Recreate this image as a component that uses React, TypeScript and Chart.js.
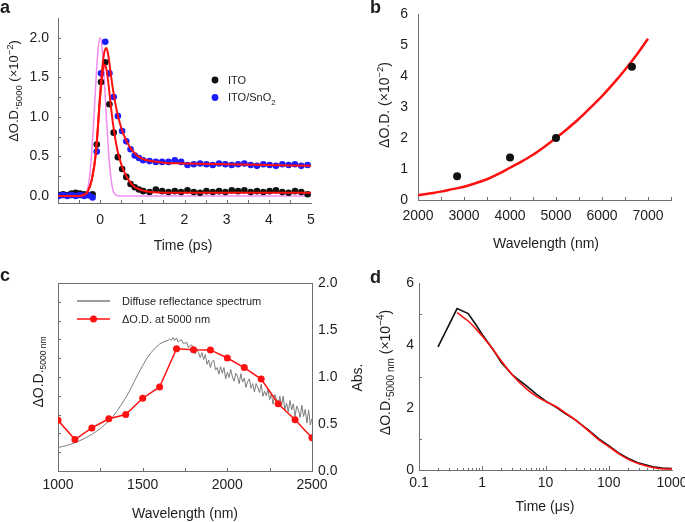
import React, { useEffect, useRef } from 'react';
import { Chart, registerables } from 'chart.js';

Chart.register(...registerables);

const FONT = '"Liberation Sans", Arial, Helvetica, sans-serif';
const TXT = '#1e1e1e';
const AXIS = '#6f6f6f';
const RED = '#ff1010';
const BLUE = '#1c1cff';
const BLACK = '#111111';
const PINK = '#f08cf0';
const GRAY = '#7c7c7c';
Chart.defaults.font.family = FONT;
Chart.defaults.color = TXT;

// ---------------- Panel a: ultrafast transient ----------------
const aTimes = [-0.98, -0.88, -0.78, -0.68, -0.58, -0.48, -0.38, -0.28, -0.18, -0.08,
  0.02, 0.12, 0.22, 0.32, 0.42, 0.52, 0.62, 0.72, 0.82, 0.92, 1.02,
  1.17, 1.32, 1.47, 1.62, 1.77, 1.92, 2.07, 2.22, 2.37, 2.52, 2.67, 2.82, 2.97, 3.12, 3.27,
  3.42, 3.57, 3.72, 3.87, 4.02, 4.17, 4.32, 4.47, 4.62, 4.77, 4.92];
const aITO = [0.01, 0.02, 0.01, 0.03, 0.04, 0.03, 0.02, 0.01, 0.02, 0.65,
  1.44, 1.69, 1.16, 0.8, 0.49, 0.34, 0.24, 0.15, 0.11, 0.08, 0.06,
  0.05, 0.08, 0.06, 0.05, 0.06, 0.05, 0.07, 0.05, 0.04, 0.06, 0.05, 0.06, 0.05, 0.07, 0.06,
  0.07, 0.05, 0.06, 0.05, 0.06, 0.07, 0.05, 0.04, 0.06, 0.05, 0.02];
const aSnO2 = [0.0, 0.01, 0.0, 0.01, 0.0, 0.01, 0.0, 0.01, -0.02, 0.56,
  1.55, 1.95, 1.55, 1.25, 1.01, 0.82, 0.69, 0.59, 0.51, 0.48, 0.45,
  0.44, 0.43, 0.43, 0.43, 0.45, 0.43, 0.39, 0.4, 0.41, 0.4, 0.39, 0.41, 0.4, 0.39, 0.4,
  0.41, 0.39, 0.38, 0.4, 0.39, 0.38, 0.4, 0.39, 0.4, 0.38, 0.39];
const aFitT = [-1, -0.5, -0.4, -0.3, -0.2, -0.1, 0, 0.05, 0.1, 0.15, 0.2, 0.25, 0.3, 0.4, 0.5,
  0.6, 0.7, 0.8, 0.9, 1.0, 1.2, 1.5, 2, 3, 4, 5];
const aFitITO = [0.0, 0.0, 0.01, 0.05, 0.2, 0.55, 1.25, 1.52, 1.66, 1.6, 1.4, 1.15, 0.93, 0.6, 0.4,
  0.27, 0.18, 0.12, 0.09, 0.07, 0.05, 0.04, 0.04, 0.04, 0.04, 0.04];
const aFitSnO2 = [0.0, 0.0, 0.01, 0.05, 0.2, 0.55, 1.3, 1.62, 1.82, 1.87, 1.75, 1.55, 1.36, 1.06, 0.86,
  0.72, 0.62, 0.55, 0.5, 0.47, 0.44, 0.42, 0.41, 0.4, 0.39, 0.38];
const aPulseT = [-1, -0.45, -0.35, -0.3, -0.25, -0.2, -0.15, -0.1, -0.05, 0, 0.05, 0.1, 0.15, 0.2, 0.25, 0.3, 0.35, 0.45, 5];
const aPulse = [0, 0, 0.02, 0.08, 0.25, 0.55, 0.98, 1.45, 1.85, 2.0, 1.85, 1.45, 0.98, 0.55, 0.25, 0.08, 0.02, 0, 0];
const aXTicks = [0, 1, 2, 3, 4, 5];
const aYTicks = [0, 0.5, 1, 1.5, 2];
const aXMinor = [-0.5, 0, 0.5, 1, 1.5, 2, 2.5, 3, 3.5, 4, 4.5];
const aYMinor = [0.25, 0.5, 0.75, 1, 1.25, 1.5, 1.75, 2];

// ---------------- Panel b: wavelength dependence ----------------
const bWavelength = [2850, 4000, 5000, 6650];
const bDeltaOD = [0.77, 1.37, 2.0, 4.3];
const bFitWl = [2000, 2250, 2500, 2750, 3000, 3250, 3500, 3750, 4000, 4250, 4500, 4750, 5000,
  5250, 5500, 5750, 6000, 6250, 6500, 6750, 7000];
const bFitOD = [0.15, 0.21, 0.27, 0.35, 0.43, 0.54, 0.67, 0.84, 1.04, 1.24, 1.46, 1.72, 2.0,
  2.3, 2.62, 2.98, 3.35, 3.76, 4.2, 4.68, 5.2];
const bXTicks = [2000, 3000, 4000, 5000, 6000, 7000];
const bYTicks = [0, 1, 2, 3, 4, 5, 6];
const bXMinor = [2500, 3000, 3500, 4000, 4500, 5000, 5500, 6000, 6500, 7000, 7500];

// ---------------- Panel c: spectra ----------------
const cSpecWlSmooth = [1000, 1025, 1050, 1075, 1100, 1125, 1150, 1175, 1200, 1225, 1250, 1275, 1300,
  1325, 1350, 1375, 1400, 1425, 1450, 1475, 1500, 1525, 1550, 1575, 1600, 1625, 1650];
const cSpecAbsSmooth = [0.25, 0.26, 0.27, 0.285, 0.3, 0.32, 0.34, 0.365, 0.39, 0.42, 0.45, 0.49, 0.53,
  0.58, 0.64, 0.71, 0.78, 0.86, 0.95, 1.04, 1.12, 1.2, 1.26, 1.31, 1.35, 1.375, 1.39];
const cSpecWlNoisy = Array.from({ length: 85 }, (_, i) => 1660 + 10 * i);
const cSpecAbsNoisy = [1.405, 1.39, 1.42, 1.39, 1.415, 1.37, 1.39, 1.395, 1.355, 1.36,
  1.37, 1.31, 1.335, 1.34, 1.28, 1.245, 1.3, 1.26, 1.205, 1.26,
  1.185, 1.24, 1.135, 1.18, 1.1, 1.165, 1.18, 1.075, 1.1, 1.03,
  1.11, 1.04, 1.1, 0.98, 1.05, 0.995, 1.08, 1.0, 0.955, 1.04,
  1.01, 0.93, 1.035, 0.945, 0.99, 0.89, 0.95, 0.98, 0.88, 0.93,
  0.84, 0.93, 0.885, 0.835, 0.925, 0.795, 0.85, 0.8, 0.87, 0.76,
  0.82, 0.71, 0.815, 0.765, 0.705, 0.795, 0.695, 0.795, 0.655, 0.72,
  0.63, 0.75, 0.65, 0.715, 0.58, 0.69, 0.65, 0.57, 0.7, 0.58,
  0.655, 0.51, 0.65, 0.49, 0.56];
const cProbeWl = [1000, 1100, 1200, 1300, 1400, 1500, 1600, 1700, 1800, 1900, 2000, 2100, 2200, 2300, 2400, 2500];
const cProbeOD = [2.7, 1.67, 2.29, 2.78, 3.0, 3.87, 4.47, 6.5, 6.45, 6.44, 6.01, 5.5, 4.89, 3.58, 2.73, 1.77];
const cXTicks = [1000, 1500, 2000, 2500];
const cAbsTicks = [0, 0.5, 1, 1.5, 2];
const cXMinor = [1250, 1500, 1750, 2000, 2250];
const cLeftMinor = [1, 2, 3, 4, 5, 6, 7, 8, 9];

// ---------------- Panel d: slow decay ----------------
const dTime = [0.2, 0.4, 0.6, 0.8, 1, 1.5, 2, 3, 4, 5, 7, 10, 15, 20, 30, 50, 70, 100, 150, 200, 300, 500, 700, 1000];
const dOD = [3.95, 5.18, 5.02, 4.65, 4.35, 3.85, 3.45, 3.05, 2.85, 2.7, 2.45, 2.22, 2.0, 1.83, 1.6, 1.25, 1.0,
  0.78, 0.52, 0.38, 0.22, 0.1, 0.06, 0.05];
const dFitTime = [0.4, 0.5, 0.6, 0.8, 1, 1.5, 2, 3, 5, 7, 10, 15, 20, 30, 50, 70, 100, 150, 200, 300, 500, 700, 1000];
const dFitOD = [5.05, 4.9, 4.78, 4.52, 4.3, 3.85, 3.5, 3.05, 2.6, 2.38, 2.2, 2.02, 1.85, 1.6, 1.22, 0.97,
  0.75, 0.5, 0.35, 0.2, 0.08, 0.04, 0.03];
const dXTicks = [0.1, 1, 10, 100, 1000];
const dYTicks = [0, 2, 4, 6];
const dXMinor = [0.2, 0.3, 0.4, 0.5, 0.6, 0.7, 0.8, 0.9, 2, 3, 4, 5, 6, 7, 8, 9,
  20, 30, 40, 50, 60, 70, 80, 90, 200, 300, 400, 500, 600, 700, 800, 900];
const dXMajor = [1, 10, 100];
const dYMinor = [1, 3, 5];

// ---------------- helpers ----------------
const xy = (xs: number[], ys: number[]) => xs.map((x, i) => ({ x, y: ys[i] }));

type Seg = { t: string; k?: 'sub' | 'sup' };
interface Txt { x: number; y: number; segs: Seg[]; size: number; small?: number; bold?: boolean; rot?: boolean; left?: boolean; base?: boolean; }
interface TickSet { axis: string; values: number[]; len: number; }
interface Mark { type: 'dot' | 'line'; x: number; y: number; x2?: number; r?: number; color: string; width?: number; }

function drawRich(ctx: CanvasRenderingContext2D, it: Txt) {
  const small = it.small ?? it.size * 0.7;
  const f = (s: Seg) => `${it.bold ? 'bold ' : ''}${s.k ? small : it.size}px ${FONT}`;
  ctx.save();
  ctx.translate(it.x, it.y);
  if (it.rot) ctx.rotate(-Math.PI / 2);
  let w = 0;
  for (const s of it.segs) { ctx.font = f(s); w += ctx.measureText(s.t).width; }
  let x = it.left ? 0 : -w / 2;
  const base = it.base ? 0 : it.size * 0.36;
  ctx.fillStyle = TXT;
  ctx.textBaseline = 'alphabetic';
  ctx.textAlign = 'left';
  for (const s of it.segs) {
    ctx.font = f(s);
    const dy = s.k === 'sub' ? it.size * 0.28 : s.k === 'sup' ? -it.size * 0.42 : 0;
    ctx.fillText(s.t, x, base + dy);
    x += ctx.measureText(s.t).width;
  }
  ctx.restore();
}

function overlay(cfg: { texts: Txt[]; ticks: TickSet[]; marks?: Mark[]; frame?: boolean }) {
  return {
    id: 'overlay',
    beforeDatasetsDraw(chart: any) {
      const ctx: CanvasRenderingContext2D = chart.ctx;
      const ca = chart.chartArea;
      ctx.save();
      ctx.strokeStyle = AXIS;
      ctx.lineWidth = 1;
      for (const t of cfg.ticks) {
        const sc = chart.scales[t.axis];
        for (const v of t.values) {
          const p = Math.round(sc.getPixelForValue(v)) + 0.5;
          ctx.beginPath();
          if (sc.isHorizontal()) { ctx.moveTo(p, ca.bottom); ctx.lineTo(p, ca.bottom - t.len); }
          else if (sc.position === 'left') { ctx.moveTo(ca.left, p); ctx.lineTo(ca.left + t.len, p); }
          else { ctx.moveTo(ca.right, p); ctx.lineTo(ca.right - t.len, p); }
          ctx.stroke();
        }
      }
      if (cfg.frame) {
        const y = Math.round(ca.top) + 0.5;
        ctx.beginPath();
        ctx.moveTo(ca.left, y);
        ctx.lineTo(ca.right, y);
        ctx.stroke();
      }
      ctx.restore();
    },
    afterDraw(chart: any) {
      const ctx: CanvasRenderingContext2D = chart.ctx;
      ctx.save();
      for (const m of cfg.marks || []) {
        if (m.type === 'line') {
          ctx.strokeStyle = m.color;
          ctx.lineWidth = m.width || 1.5;
          ctx.beginPath();
          ctx.moveTo(m.x, m.y);
          ctx.lineTo(m.x2 as number, m.y);
          ctx.stroke();
        } else {
          ctx.fillStyle = m.color;
          ctx.beginPath();
          ctx.arc(m.x, m.y, m.r || 3.5, 0, Math.PI * 2);
          ctx.fill();
        }
      }
      ctx.restore();
      for (const t of cfg.texts) drawRich(ctx, t);
    },
  };
}

interface AxisOpt { pos: string; min: number; max: number; ticks: number[]; size: number; pad: number; fmt?: (v: number) => string; labels?: boolean; type?: string; }
function axis(o: AxisOpt) {
  return {
    type: o.type || 'linear',
    position: o.pos,
    min: o.min,
    max: o.max,
    grid: { display: false, drawTicks: false },
    border: { display: true, color: AXIS, width: 1 },
    ticks: {
      display: o.labels !== false,
      padding: o.pad,
      color: TXT,
      font: { size: 14, family: FONT },
      maxRotation: 0,
      minRotation: 0,
      autoSkip: false,
      callback: (v: any) => (o.fmt ? o.fmt(Number(v)) : String(v)),
    },
    afterBuildTicks: (s: any) => { s.ticks = o.ticks.map((v) => ({ value: v })); },
    afterFit: (s: any) => {
      if (s.isHorizontal()) s.height = o.size; else s.width = o.size;
      s.paddingLeft = 0; s.paddingRight = 0; s.paddingTop = 0; s.paddingBottom = 0;
    },
  };
}

function baseOptions(scales: any, padding: any) {
  return {
    responsive: false,
    maintainAspectRatio: false,
    animation: false,
    events: [],
    layout: { padding },
    plugins: { legend: { display: false }, tooltip: { enabled: false }, title: { display: false } },
    scales,
  };
}

const lineDs = (data: any, color: string, width: number, smooth: boolean, extra: any = {}) => ({
  data, showLine: true, borderColor: color, backgroundColor: color, borderWidth: width,
  pointRadius: 0, pointHoverRadius: 0, fill: false,
  cubicInterpolationMode: smooth ? 'monotone' : 'default', tension: 0, ...extra,
});
const dotDs = (data: any, color: string, r: number, extra: any = {}) => ({
  data, showLine: false, backgroundColor: color, pointBackgroundColor: color, pointBorderWidth: 0,
  borderWidth: 0, pointRadius: r, pointHoverRadius: r, ...extra,
});

const fx1 = (v: number) => v.toFixed(1);

// ---------------- chart configs ----------------
const makeA = () => ({
  type: 'scatter',
  data: {
    datasets: [
      lineDs(xy(aFitT, aFitSnO2), RED, 2, true, { order: 0 }),
      lineDs(xy(aFitT, aFitITO), RED, 2, true, { order: 0 }),
      dotDs(xy(aTimes, aSnO2), BLUE, 3.3, { order: 1 }),
      dotDs(xy(aTimes, aITO), BLACK, 3.3, { order: 2 }),
      lineDs(xy(aPulseT, aPulse), PINK, 1.5, true, { order: 3 }),
    ],
  },
  options: baseOptions({
    x: axis({ pos: 'bottom', min: -1, max: 5, ticks: aXTicks, size: 57, pad: 9 }),
    y: axis({ pos: 'left', min: -0.09, max: 2.25, ticks: aYTicks, size: 58, pad: 9, fmt: fx1 }),
  }, { left: 0, top: 18, right: 31, bottom: 0 }),
  plugins: [overlay({
    ticks: [{ axis: 'x', values: aXMinor, len: 3 }, { axis: 'y', values: aYMinor, len: 3 }],
    marks: [
      { type: 'dot', x: 215, y: 80, r: 3.4, color: BLACK },
      { type: 'dot', x: 215, y: 97.5, r: 3.4, color: BLUE },
    ],
    texts: [
      { x: 0, y: 13, segs: [{ t: 'a' }], size: 18, bold: true, left: true, base: true },
      { x: 183, y: 245, segs: [{ t: 'Time (ps)' }], size: 14 },
      { x: 13.5, y: 91, rot: true, size: 13, small: 9.5, segs: [{ t: 'ΔO.D.' }, { t: '5000', k: 'sub' }, { t: ' (×10' }, { t: '−2', k: 'sup' }, { t: ')' }] },
      { x: 228, y: 80, segs: [{ t: 'ITO' }], size: 11, left: true },
      { x: 228, y: 97.5, segs: [{ t: 'ITO/SnO' }, { t: '2', k: 'sub' }], size: 11, small: 8, left: true },
    ],
  })],
});

const makeB = () => ({
  type: 'scatter',
  data: {
    datasets: [
      dotDs(xy(bWavelength, bDeltaOD), BLACK, 4, { order: 0 }),
      lineDs(xy(bFitWl, bFitOD), RED, 2.5, true, { order: 1 }),
    ],
  },
  options: baseOptions({
    x: axis({ pos: 'bottom', min: 2000, max: 7500, ticks: bXTicks, size: 60, pad: 8 }),
    y: axis({ pos: 'left', min: 0, max: 6, ticks: bYTicks, size: 76, pad: 10 }),
  }, { left: 0, top: 14, right: 14, bottom: 0 }),
  plugins: [overlay({
    ticks: [{ axis: 'x', values: bXMinor, len: 3 }],
    texts: [
      { x: 28, y: 13, segs: [{ t: 'b' }], size: 18, bold: true, left: true, base: true },
      { x: 204, y: 243, segs: [{ t: 'Wavelength (nm)' }], size: 14 },
      { x: 42, y: 105, rot: true, size: 14, small: 9.5, segs: [{ t: 'ΔO.D. (×10' }, { t: '−2', k: 'sup' }, { t: ')' }] },
    ],
  })],
});

const makeC = () => ({
  type: 'scatter',
  data: {
    datasets: [
      lineDs(xy(cProbeWl, cProbeOD), RED, 1.5, false, {
        yAxisID: 'yL', order: 0, pointRadius: 3.5, pointHoverRadius: 3.5,
        pointBackgroundColor: RED, pointBorderWidth: 0, clip: 0,
      }),
      lineDs(xy(cSpecWlSmooth.concat(cSpecWlNoisy), cSpecAbsSmooth.concat(cSpecAbsNoisy)), GRAY, 1, false, { yAxisID: 'yR', order: 1 }),
    ],
  },
  options: baseOptions({
    x: axis({ pos: 'bottom', min: 1000, max: 2500, ticks: cXTicks, size: 51, pad: 6 }),
    yL: axis({ pos: 'left', min: 0, max: 10, ticks: cLeftMinor, size: 58, pad: 6, labels: false }),
    yR: axis({ pos: 'right', min: 0, max: 2, ticks: cAbsTicks, size: 58, pad: 6, fmt: fx1 }),
  }, { left: 0, top: 23, right: 0, bottom: 0 }),
  plugins: [overlay({
    frame: true,
    ticks: [{ axis: 'x', values: cXMinor, len: 3 }, { axis: 'yL', values: cLeftMinor, len: 3 }],
    marks: [
      { type: 'line', x: 77, x2: 110, y: 41, color: GRAY, width: 1.5 },
      { type: 'line', x: 77, x2: 110, y: 59, color: RED, width: 1.5 },
      { type: 'dot', x: 93.5, y: 59, r: 3.5, color: RED },
    ],
    texts: [
      { x: 0, y: 21, segs: [{ t: 'c' }], size: 18, bold: true, left: true, base: true },
      { x: 185, y: 252.5, segs: [{ t: 'Wavelength (nm)' }], size: 14 },
      { x: 37.5, y: 112, rot: true, size: 14, small: 8.5, segs: [{ t: 'ΔO.D.' }, { t: '5000 nm', k: 'sub' }] },
      { x: 356.7, y: 117.5, rot: true, size: 14, segs: [{ t: 'Abs.' }] },
      { x: 122, y: 41, segs: [{ t: 'Diffuse reflectance spectrum' }], size: 11, left: true },
      { x: 122, y: 59, segs: [{ t: 'ΔO.D. at 5000 nm' }], size: 11, left: true },
    ],
  })],
});

const makeD = () => ({
  type: 'scatter',
  data: {
    datasets: [
      lineDs(xy(dFitTime, dFitOD), RED, 1.6, true, { order: 0 }),
      lineDs(xy(dTime, dOD), BLACK, 1.6, false, { order: 1 }),
    ],
  },
  options: baseOptions({
    x: axis({ type: 'logarithmic', pos: 'bottom', min: 0.1, max: 1000, ticks: dXTicks, size: 52, pad: 5 }),
    y: axis({ pos: 'left', min: 0, max: 6, ticks: dYTicks, size: 49, pad: 5 }),
  }, { left: 0, top: 23, right: 13, bottom: 0 }),
  plugins: [overlay({
    ticks: [
      { axis: 'x', values: dXMinor, len: 2 },
      { axis: 'x', values: dXMajor, len: 4 },
      { axis: 'y', values: dYMinor, len: 3 },
    ],
    texts: [
      { x: 0, y: 23, segs: [{ t: 'd' }], size: 18, bold: true, left: true, base: true },
      { x: 175, y: 245.5, segs: [{ t: 'Time (μs)' }], size: 14 },
      { x: 15, y: 112.5, rot: true, size: 14, small: 10, segs: [{ t: 'ΔO.D.' }, { t: '5000 nm', k: 'sub' }, { t: ' (×10' }, { t: '−4', k: 'sup' }, { t: ')' }] },
    ],
  })],
});

function Panel(props: { left: number; top: number; width: number; height: number; make: () => any }) {
  const ref = useRef<HTMLCanvasElement>(null);
  useEffect(() => {
    const chart = new Chart(ref.current as HTMLCanvasElement, props.make());
    return () => chart.destroy();
  }, []);
  return (
    <canvas
      ref={ref}
      width={props.width}
      height={props.height}
      style={{ position: 'absolute', left: props.left, top: props.top, width: props.width, height: props.height }}
    />
  );
}

export default function App() {
  return (
    <div style={{ position: 'absolute', left: 0, top: 0, width: 685, height: 522, background: '#ffffff', overflow: 'hidden' }}>
      <Panel left={0} top={0} width={342} height={260} make={makeA} />
      <Panel left={342} top={0} width={343} height={260} make={makeB} />
      <Panel left={0} top={260} width={370} height={262} make={makeC} />
      <Panel left={370} top={260} width={315} height={262} make={makeD} />
    </div>
  );
}
